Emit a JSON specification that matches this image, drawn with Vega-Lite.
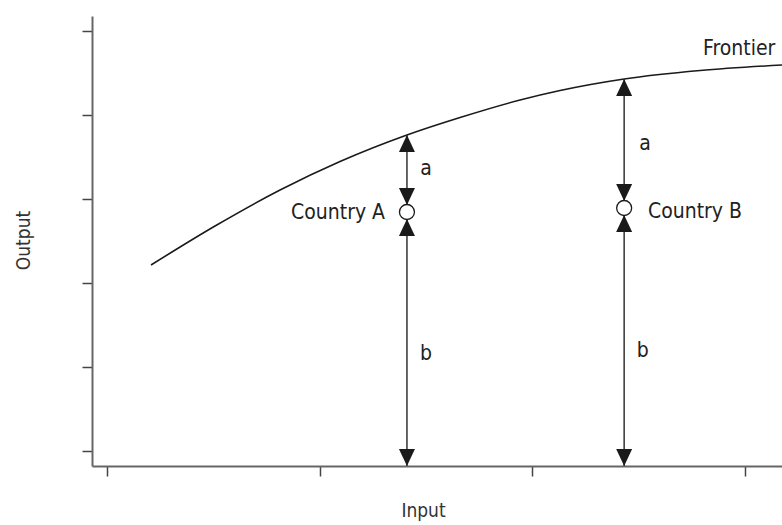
{
  "$schema": "https://vega.github.io/schema/vega-lite/v6.json",
  "width": 690,
  "height": 450,
  "autosize": {"type": "none"},
  "padding": {"left": 92, "top": 16, "right": 0, "bottom": 59},
  "background": "white",
  "config": {
    "view": {"stroke": null},
    "font": "DejaVu Sans Condensed, sans-serif"
  },
  "datasets": {
    "frontier": [
      {"input": 0.2069, "output": 2.2143},
      {"input": 0.5078, "output": 2.6786},
      {"input": 0.8134, "output": 3.1071},
      {"input": 1.0954, "output": 3.4464},
      {"input": 1.41, "output": 3.762},
      {"input": 1.6596, "output": 3.9702},
      {"input": 1.9417, "output": 4.1786},
      {"input": 2.1298, "output": 4.2917},
      {"input": 2.431, "output": 4.429},
      {"input": 2.788, "output": 4.5298},
      {"input": 3.173, "output": 4.5952}
    ],
    "gaps": [
      {"country": "A", "part": "a", "input": 1.41, "from": 2.929, "to": 3.762},
      {"country": "A", "part": "b", "input": 1.41, "from": -0.179, "to": 2.762},
      {"country": "B", "part": "a", "input": 2.431, "from": 2.976, "to": 4.429},
      {"country": "B", "part": "b", "input": 2.431, "from": -0.179, "to": 2.81}
    ],
    "heads": [
      {"input": 1.41, "output": 3.762, "dir": "up"},
      {"input": 1.41, "output": 2.929, "dir": "down"},
      {"input": 1.41, "output": 2.762, "dir": "up"},
      {"input": 1.41, "output": -0.179, "dir": "down"},
      {"input": 2.431, "output": 4.429, "dir": "up"},
      {"input": 2.431, "output": 2.976, "dir": "down"},
      {"input": 2.431, "output": 2.81, "dir": "up"},
      {"input": 2.431, "output": -0.179, "dir": "down"}
    ],
    "countries": [
      {"country": "Country A", "input": 1.41, "output": 2.845},
      {"country": "Country B", "input": 2.431, "output": 2.893}
    ]
  },
  "encoding": {
    "x": {
      "field": "input",
      "type": "quantitative",
      "scale": {"domain": [-0.0705, 3.173], "nice": false, "zero": false},
      "axis": {
        "title": "Input",
        "values": [0, 1, 2, 3],
        "labels": false,
        "grid": false,
        "domainColor": "#666666",
        "domainWidth": 2,
        "tickColor": "#444444",
        "tickWidth": 1.5,
        "tickSize": 10,
        "titleFont": "DejaVu Sans Condensed, sans-serif",
        "titleFontSize": 19,
        "titleFontWeight": "normal",
        "titleColor": "#333333",
        "titleX": 331,
        "titleY": 50,
        "titleBaseline": "alphabetic",
        "titleAlign": "center"
      }
    },
    "y": {
      "field": "output",
      "type": "quantitative",
      "scale": {"domain": [-0.179, 5.179], "nice": false, "zero": false},
      "axis": {
        "title": "Output",
        "values": [0, 1, 2, 3, 4, 5],
        "labels": false,
        "grid": false,
        "domainColor": "#666666",
        "domainWidth": 2,
        "tickColor": "#444444",
        "tickWidth": 1.5,
        "tickSize": 10,
        "titleFont": "DejaVu Sans Condensed, sans-serif",
        "titleFontSize": 19,
        "titleFontWeight": "normal",
        "titleColor": "#333333",
        "titleAngle": -90,
        "titleX": -63,
        "titleY": 224,
        "titleBaseline": "alphabetic",
        "titleAlign": "center"
      }
    }
  },
  "layer": [
    {
      "data": {"name": "frontier"},
      "mark": {"type": "line", "color": "#1a1a1a", "strokeWidth": 1.6, "interpolate": "monotone"}
    },
    {
      "data": {"name": "gaps"},
      "mark": {"type": "rule", "color": "#333333", "strokeWidth": 1.5},
      "encoding": {
        "y": {"field": "from", "type": "quantitative"},
        "y2": {"field": "to"},
        "detail": {"field": "part"}
      }
    },
    {
      "data": {"name": "heads"},
      "mark": {"type": "point", "filled": true, "opacity": 1, "color": "#1a1a1a", "size": 1156, "strokeWidth": 0},
      "encoding": {
        "shape": {
          "field": "dir",
          "type": "nominal",
          "scale": {"domain": ["up", "down"], "range": ["M0,0L-0.47,1L0.47,1Z", "M0,0L-0.47,-1L0.47,-1Z"]},
          "legend": null
        }
      }
    },
    {
      "data": {"name": "countries"},
      "mark": {"type": "point", "shape": "circle", "filled": true, "fill": "white", "stroke": "#1a1a1a", "strokeWidth": 1.3, "opacity": 1, "size": 225}
    },
    {
      "data": {"values": [
        {"label": "a", "input": 1.5, "output": 3.286},
        {"label": "a", "input": 2.529, "output": 3.583},
        {"label": "b", "input": 1.5, "output": 1.083},
        {"label": "b", "input": 2.518, "output": 1.119}
      ]},
      "mark": {"type": "text", "align": "center", "baseline": "alphabetic", "fontSize": 21, "color": "#222222"},
      "encoding": {"text": {"field": "label"}}
    },
    {
      "data": {"values": [
        {"label": "Country A", "input": 1.307, "output": 2.762}
      ]},
      "mark": {"type": "text", "align": "right", "baseline": "alphabetic", "fontSize": 21, "color": "#222222"},
      "encoding": {"text": {"field": "label"}}
    },
    {
      "data": {"values": [
        {"label": "Country B", "input": 2.543, "output": 2.774},
        {"label": "Frontier", "input": 2.802, "output": 4.714}
      ]},
      "mark": {"type": "text", "align": "left", "baseline": "alphabetic", "fontSize": 21, "color": "#222222"},
      "encoding": {"text": {"field": "label"}}
    }
  ]
}
